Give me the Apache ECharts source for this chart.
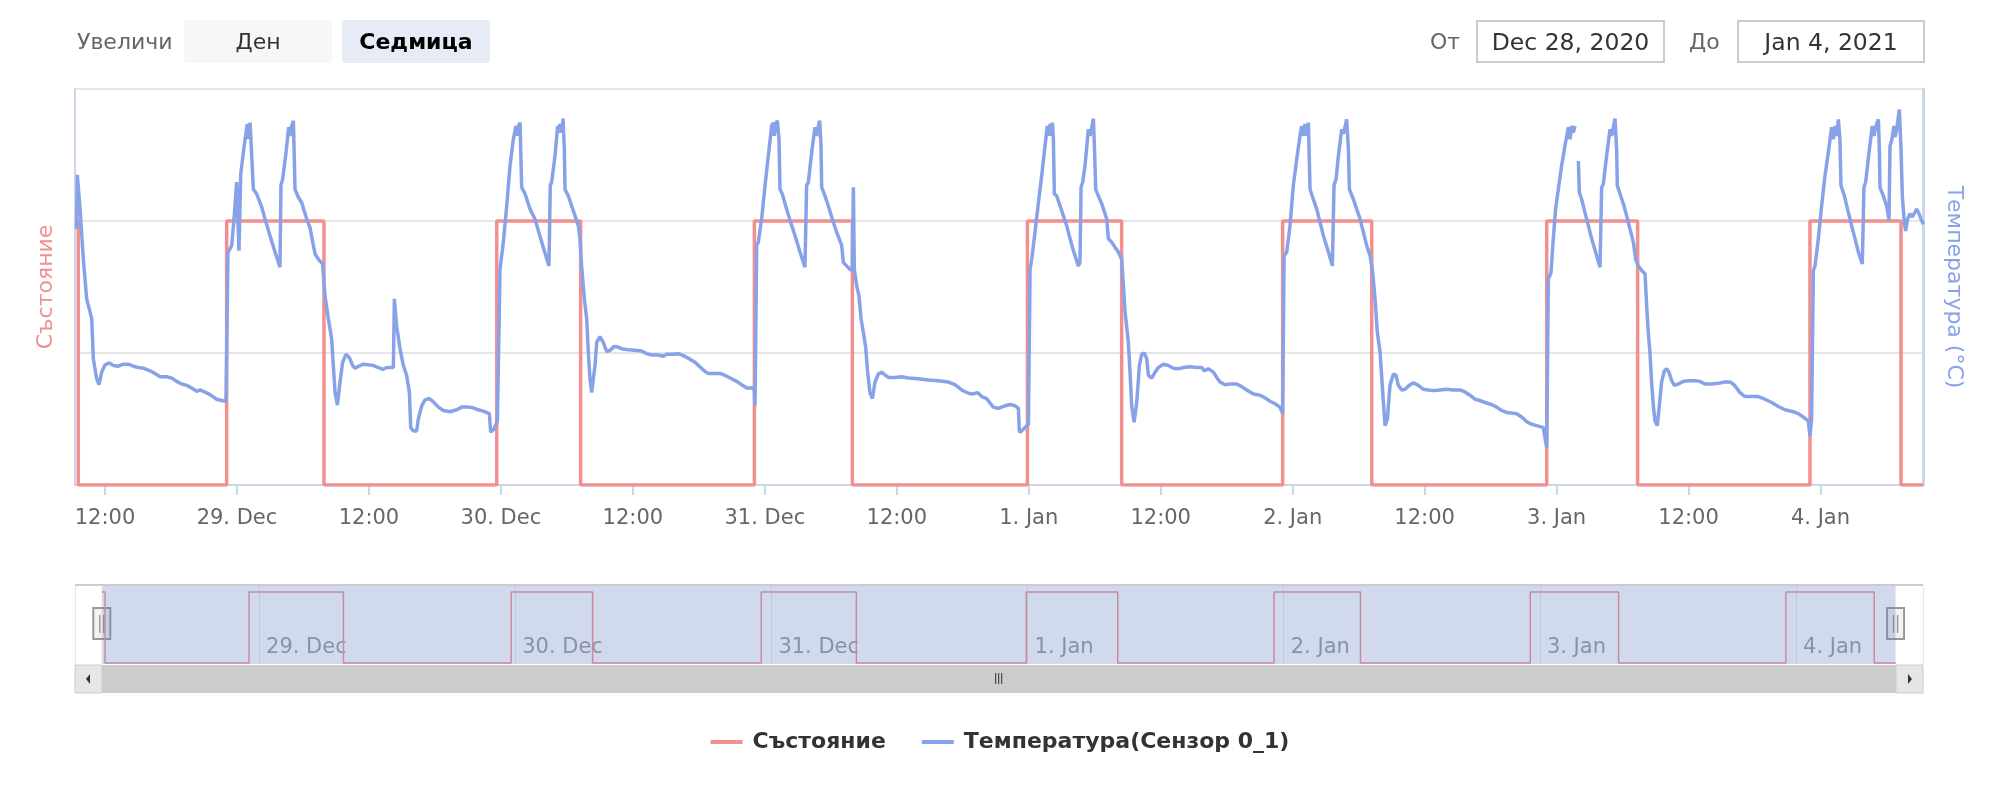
<!DOCTYPE html>
<html>
<head>
<meta charset="utf-8">
<script src="https://cdn.jsdelivr.net/npm/echarts@6/dist/echarts.min.js"></script>
<style>
  html, body { margin: 0; padding: 0; background: #fff; }
  #wrap { position: relative; width: 2000px; height: 800px; font-family: 'DejaVu Sans', sans-serif; }
  #chart { position: absolute; left: 0; top: 0; width: 2000px; height: 800px; }
  .lbl { position: absolute; top: 20px; height: 43px; line-height: 43px; font-size: 22px; color: #666; z-index: 5; }
  .btn { position: absolute; top: 20px; height: 43px; line-height: 43px; font-size: 22px; text-align: center; border-radius: 3px; z-index: 5; }
  .box { position: absolute; top: 20px; height: 43px; line-height: 41px; box-sizing: border-box; border: 2px solid #cccccc; font-size: 23.5px; color: #333; text-align: center; z-index: 5; background: #fff; }
</style>
</head>
<body>
<div id="wrap">
  <div id="chart"></div>
  <div class="lbl" style="left:77px;">Увеличи</div>
  <div class="btn" style="left:184px;width:148px;background:#f7f7f7;color:#333;">Ден</div>
  <div class="btn" style="left:342px;width:148px;background:#e6ebf5;color:#000;font-weight:bold;">Седмица</div>
  <div class="lbl" style="left:1430px;">От</div>
  <div class="box" style="left:1476px;width:189px;">Dec 28, 2020</div>
  <div class="lbl" style="left:1689px;">До</div>
  <div class="box" style="left:1737px;width:188px;">Jan 4, 2021</div>
</div>
<script>
// ---------------- data (hours since 28 Dec 2020 00:00) ----------------
const START_DATE = [2020, 11, 28];
const VIEW_RANGE_HOURS = [9.27, 177.32];       // main chart window
const NAVIGATOR_RANGE_HOURS = [6.76, 179.89];  // navigator axis extent
const X_TICK_HOURS = [12, 24, 36, 48, 60, 72, 84, 96, 108, 120, 132, 144, 156, 168]; // 12:00 / day labels
const MONTH_NAMES = ['Jan','Feb','Mar','Apr','May','Jun','Jul','Aug','Sep','Oct','Nov','Dec'];

const SERIES_NAMES = ['Състояние', 'Температура(Сензор 0_1)'];
const AXIS_TITLES = ['Състояние', 'Температура (°C)'];

// state (0 = off, 1 = on), change points
const stateHours  = [9.3, 9.57, 23.06, 31.91, 47.62, 55.25, 71.05, 79.96, 95.88, 104.45, 119.09, 127.19, 143.10, 151.37, 167.04, 175.32, 177.35];
const stateValues = [1,   0,    1,     0,     1,     0,     1,     0,     1,     0,      1,      0,      1,      0,      1,      0,      0];

// temperature readings [hour, °C]; null = missing reading
const temperature = [
 [9.42,48.8],[9.48,57.0],[9.73,51.8],[10.03,44.2],[10.33,38.2],[10.79,35.2],[10.94,29.1],[11.24,26.1],[11.45,25.2],[11.70,27.1],
 [12.0,28.2],[12.39,28.5],[12.76,28.1],[13.21,28.0],[13.67,28.3],[14.12,28.3],[14.58,28.0],[15.03,27.8],[15.49,27.7],[16.09,27.3],
 [16.55,26.9],[17.0,26.4],[17.61,26.4],[18.06,26.2],[18.52,25.7],[18.97,25.3],[19.43,25.1],[19.88,24.7],[20.34,24.2],[20.64,24.4],
 [20.94,24.2],[21.55,23.7],[22.15,23.0],[22.61,22.8],[23.0,22.7],[23.12,22.4],
 [23.18,45.2],[23.52,46.3],[23.73,50.3],[23.97,55.9],[24.18,45.5],[24.34,57.1],[24.58,60.4],[24.82,63.4],[24.94,64.7],[25.06,62.4],
 [25.19,64.9],[25.34,65.2],[25.49,54.8],[25.79,54.1],[26.25,52.1],[26.55,50.3],[27.0,47.8],[27.46,45.3],[27.91,43.0],[28.0,55.4],
 [28.16,56.4],[28.46,60.4],[28.70,64.2],[28.82,62.9],[28.97,64.4],[29.13,65.2],[29.28,54.8],[29.58,53.6],[29.88,52.8],[30.34,50.3],
 [30.64,49.0],[31.10,45.0],[31.40,44.2],[31.79,43.5],
 [32.0,38.7],[32.31,35.2],[32.61,32.1],[32.76,28.1],[32.92,24.0],[33.13,22.1],[33.37,25.6],[33.61,28.6],[33.91,29.8],[34.22,29.3],
 [34.52,28.1],[34.73,27.7],[35.19,28.1],[35.49,28.3],[35.95,28.2],[36.40,28.1],[36.86,27.8],[37.25,27.5],[37.61,27.8],[37.92,27.8],
 [38.22,27.8],[38.31,38.2],[38.52,34.1],[38.83,30.6],[39.13,28.1],[39.43,26.6],[39.68,24.0],[39.80,18.7],[40.04,18.2],[40.34,18.2],
 [40.49,20.0],[40.80,22.0],[41.10,22.9],[41.49,23.1],[41.86,22.6],[42.31,21.8],[42.77,21.3],[43.37,21.1],[43.98,21.4],[44.43,21.8],
 [45.04,21.8],[45.49,21.7],[45.95,21.4],[46.40,21.2],[46.95,20.8],[47.07,18.0],[47.16,17.7],[47.37,18.5],[47.68,19.7],
 [47.92,42.7],[48.22,46.8],[48.53,52.3],[48.83,58.4],[49.13,62.4],[49.38,64.4],[49.5,62.9],[49.59,64.4],[49.74,64.9],[49.89,55.1],
 [50.2,54.1],[50.65,51.8],[51.10,50.3],[51.71,46.8],[52.37,43.2],[52.49,55.4],[52.62,55.9],[52.92,59.9],[53.16,64.4],[53.28,63.4],
 [53.37,64.7],[53.52,63.4],[53.65,65.5],[53.77,60.9],[53.83,54.8],[54.13,53.8],[54.43,52.3],[54.74,50.8],[55.04,49.3],[55.19,47.3],
 [55.34,43.2],[55.59,38.2],[55.80,35.2],[55.95,30.1],[56.10,26.1],[56.25,24.0],[56.40,24.1],[56.56,28.1],[56.71,31.6],[57.01,32.5],
 [57.31,31.6],[57.62,30.2],[57.92,30.4],[58.31,31.0],[58.68,30.9],[59.04,30.6],[59.59,30.5],[60.19,30.4],[60.80,30.3],[61.25,29.9],
 [61.71,29.7],[62.32,29.7],[62.77,29.5],[63.07,29.8],[63.53,29.8],[64.13,29.9],[64.59,29.6],[65.04,29.2],[65.65,28.6],[66.10,27.9],
 [66.56,27.2],[66.86,26.9],[67.32,26.9],[67.92,26.9],[68.38,26.6],[68.98,26.1],[69.44,25.7],[69.89,25.2],[70.35,24.7],[70.86,24.7],
 [71.05,24.5],[71.11,22.0],
 [71.26,46.3],[71.41,46.8],[71.71,50.3],[72.02,55.4],[72.32,59.9],[72.62,64.4],[72.77,64.9],[72.86,62.9],[72.99,64.7],[73.14,65.2],
 [73.29,62.4],[73.38,54.8],[73.59,54.1],[73.89,52.3],[74.29,50.1],[74.74,47.8],[75.20,45.3],[75.65,43.0],[75.80,55.4],[75.96,55.9],
 [76.26,60.4],[76.56,64.2],[76.71,62.9],[76.87,64.4],[76.99,65.2],[77.11,61.4],[77.17,55.1],[77.47,53.8],[77.77,52.3],[78.14,50.3],
 [78.53,48.3],[78.99,46.3],[79.14,43.7],[79.44,43.2],[79.74,42.7],[79.96,42.5],[80.05,55.1],[80.14,42.7],[80.35,40.2],[80.56,38.7],
 [80.75,35.2],[80.96,33.1],[81.17,30.9],[81.35,27.1],[81.56,24.0],[81.78,23.1],[82.02,25.6],[82.32,26.8],[82.62,27.1],[82.93,26.7],
 [83.23,26.3],[83.84,26.3],[84.44,26.4],[85.05,26.2],[85.96,26.1],[86.87,25.9],[87.78,25.8],[88.69,25.6],[89.29,25.2],[89.90,24.4],
 [90.51,23.9],[90.96,23.8],[91.35,24.0],[91.72,23.4],[92.17,23.1],[92.48,22.4],[92.78,21.8],[93.23,21.6],
 [93.39,21.5],[93.84,22.0],[94.30,22.2],[94.75,22.0],[95.06,21.6],[95.15,18.0],[95.36,18.2],[95.66,18.7],[95.97,19.2],
 [96.12,42.7],[96.27,44.2],[96.57,48.3],[96.88,52.8],[97.18,56.9],[97.48,61.4],[97.69,64.4],[97.82,62.9],[97.94,64.7],[98.06,62.9],
 [98.15,64.9],[98.24,62.4],[98.33,54.1],[98.54,53.8],[98.85,52.3],[99.15,50.8],[99.45,49.3],[99.76,47.3],[100.06,45.5],[100.51,43.2],
 [100.66,43.7],[100.76,55.1],[100.91,55.9],[101.12,58.4],[101.42,63.9],[101.57,62.9],[101.73,64.2],[101.88,65.5],[101.97,61.4],[102.09,54.8],
 [102.33,53.8],[102.64,52.6],[102.94,51.1],[103.09,50.3],[103.24,47.3],[103.54,46.8],[103.85,46.0],[104.15,45.3],[104.45,44.2],[104.61,40.2],
 [104.76,36.2],[105.06,31.6],[105.21,27.1],[105.36,22.0],[105.58,19.5],[105.82,22.5],[106.06,28.1],[106.27,29.8],[106.51,30.0],[106.73,29.1],
 [106.88,26.6],[107.18,26.2],[107.49,27.1],[107.79,27.8],[108.24,28.3],[108.70,28.1],[109.15,27.7],[109.61,27.6],[110.06,27.8],[110.67,27.9],
 [111.27,27.8],[111.73,27.8],[111.94,27.3],[112.33,27.6],[112.79,27.1],[113.09,26.3],[113.40,25.6],[113.85,25.2],[114.31,25.3],[114.91,25.3],
 [115.37,24.9],[115.82,24.4],[116.43,23.8],[117.03,23.6],[117.49,23.2],[117.94,22.7],[118.40,22.3],[118.85,21.8],[119.09,20.8],
 [119.22,44.7],[119.46,45.3],[119.76,49.3],[120.06,55.4],[120.37,59.4],[120.67,62.9],[120.82,64.4],[120.97,62.9],[121.13,64.7],[121.28,62.9],
 [121.43,64.9],[121.58,54.8],[121.88,53.3],[122.19,51.8],[122.49,49.8],[122.79,47.8],[123.25,45.3],[123.61,43.2],[123.76,55.4],[123.95,56.4],
 [124.16,59.9],[124.46,63.9],[124.61,63.2],[124.76,64.2],[124.91,65.4],[125.07,60.9],[125.16,54.8],[125.52,53.3],[125.82,51.8],[126.13,50.3],
 [126.43,48.3],[126.73,46.3],[127.04,44.7],[127.28,42.2],[127.49,38.2],[127.70,33.1],[127.95,30.1],[128.19,24.0],[128.40,19.0],[128.61,20.0],
 [128.85,25.1],[129.16,26.8],[129.40,26.6],[129.61,25.1],[129.92,24.4],[130.22,24.5],[130.61,25.1],[130.98,25.5],[131.43,25.1],[131.89,24.5],
 [132.34,24.4],[132.80,24.3],[133.40,24.4],[134.01,24.5],[134.61,24.4],[135.22,24.4],
 [135.67,24.1],[136.12,23.6],[136.58,23.0],[137.03,22.8],[137.49,22.5],[138.09,22.2],[138.55,21.8],[139.0,21.3],[139.46,21.0],[139.91,20.9],
 [140.37,20.8],[140.82,20.3],[141.28,19.6],[141.73,19.2],[142.19,19.0],[142.79,18.7],[142.95,18.6],[143.10,15.6],
 [143.25,41.2],[143.49,42.2],[143.70,47.3],[143.91,51.8],[144.16,54.8],[144.46,58.4],[144.76,61.4],[145.07,64.2],[145.22,62.4],[145.37,64.4],
 [145.52,63.4],[145.67,64.4],[145.8,null],[145.98,59.1],[146.07,54.3],[146.28,53.3],[146.58,51.3],[146.89,49.3],[147.19,47.3],[147.55,45.3],
 [147.95,43.0],[148.10,55.1],[148.25,55.6],[148.55,59.9],[148.86,63.9],[149.01,62.9],[149.16,64.2],[149.31,65.5],[149.46,60.9],[149.52,55.4],
 [149.77,54.1],[150.07,52.6],[150.37,50.8],[150.67,48.8],[150.98,46.8],[151.19,44.2],[151.43,43.2],[151.74,42.5],[152.04,42.0],[152.19,37.2],
 [152.34,33.1],[152.49,30.1],[152.64,25.6],[152.80,22.0],[152.95,19.7],[153.16,19.0],[153.34,22.0],[153.55,25.6],[153.80,27.3],[154.01,27.6],
 [154.22,27.1],[154.46,25.8],[154.71,25.1],[155.07,25.3],[155.52,25.7],[155.98,25.8],[156.59,25.8],[157.04,25.7],[157.49,25.3],[158.10,25.3],
 [158.71,25.4],[159.31,25.6],[159.77,25.6],[160.07,25.3],[160.37,24.7],[160.68,24.0],[161.13,23.4],[161.74,23.4],[162.34,23.4],[162.95,23.0],
 [163.56,22.5],[164.16,21.9],[164.77,21.4],[165.53,21.1],[165.98,20.8],[166.44,20.3],[166.89,19.7],[167.04,17.4],[167.19,20.0],
 [167.35,42.5],[167.50,43.2],[167.80,47.3],[168.10,52.3],[168.41,56.9],[168.71,60.4],[169.01,64.2],[169.17,62.4],[169.32,64.4],[169.47,62.9],
 [169.62,65.4],[169.77,62.4],[169.86,55.4],[170.17,53.8],[170.53,51.3],[170.83,49.3],[171.14,47.3],[171.44,45.3],[171.80,43.5],[171.95,55.1],
 [172.11,55.9],[172.41,60.4],[172.71,64.4],[172.86,62.9],[173.01,64.2],[173.26,65.4],[173.35,60.9],[173.41,55.1],[173.71,53.8],[174.01,52.3],
 [174.23,50.2],[174.32,61.4],[174.47,62.2],[174.68,64.4],[174.77,62.7],[174.93,63.9],[175.17,66.9],[175.32,60.9],[175.44,53.8],[175.62,49.8],
 [175.74,48.5],[175.92,50.3],[176.14,51.1],[176.35,50.6],[176.53,50.8],[176.74,51.8],[176.96,51.1],[177.14,50.3],[177.35,49.5]
];

// axis scales
const STATE_AXIS = { min: 0, max: 1.5, interval: 0.5 };
const TEMP_AXIS = { min: 10, max: 70, interval: 20 };

// ---------------- build ----------------
const BASE = new Date(START_DATE[0], START_DATE[1], START_DATE[2], 0, 0, 0).getTime();
const HOUR = 3600 * 1000;
const toTime = h => BASE + h * HOUR;

const stateData = stateHours.map((h, i) => [toTime(h), stateValues[i]]);
const tempData = temperature.map(p => [toTime(p[0]), p[1] === null ? '-' : p[1]]);
const xTicks = X_TICK_HOURS.map(toTime);

const FONT = 'DejaVu Sans';
const RED = '#f28f8f';
const BLUE = '#87a2e8';
const AXIS_COLOR = '#ccd6eb';

function fmtTime(v) {
  const d = new Date(v);
  const h = d.getHours(), m = d.getMinutes();
  if (h === 0 && m === 0) return d.getDate() + '. ' + MONTH_NAMES[d.getMonth()];
  return String(h).padStart(2, '0') + ':' + String(m).padStart(2, '0');
}

const chart = echarts.init(document.getElementById('chart'), null, { renderer: 'canvas' });

const option = {
  animation: false,
  backgroundColor: '#ffffff',
  textStyle: { fontFamily: FONT },
  legend: {
    data: SERIES_NAMES,
    top: 726,
    left: 'center',
    icon: 'rect',
    itemWidth: 32,
    itemHeight: 4,
    itemGap: 36,
    textStyle: { fontFamily: FONT, fontSize: 22, fontWeight: 'bold', color: '#333', padding: [0, 0, 0, 5] }
  },
  grid: [
    { left: 75, right: 77, top: 89, height: 396 },
    { left: 75, right: 77, top: 585, height: 79 }
  ],
  xAxis: [
    {
      // timestamps on a linear axis, ticks placed at 12-hour marks
      type: 'value', gridIndex: 0,
      min: toTime(VIEW_RANGE_HOURS[0]), max: toTime(VIEW_RANGE_HOURS[1]),
      axisLine: { show: true, onZero: false, lineStyle: { color: AXIS_COLOR, width: 2 } },
      axisTick: { show: true, length: 10, customValues: xTicks, lineStyle: { color: AXIS_COLOR, width: 2 } },
      axisLabel: { customValues: xTicks, formatter: fmtTime, color: '#666', fontSize: 21, fontFamily: FONT, margin: 23, hideOverlap: false },
      splitLine: { show: false }
    },
    {
      type: 'time', gridIndex: 1,
      min: toTime(NAVIGATOR_RANGE_HOURS[0]), max: toTime(NAVIGATOR_RANGE_HOURS[1]),
      minInterval: 24 * HOUR, maxInterval: 24 * HOUR,
      axisLine: { show: false },
      axisTick: { show: false },
      axisLabel: { inside: true, formatter: fmtTime, color: '#999', fontSize: 21, fontFamily: FONT, align: 'left', padding: [0, 0, 0, 7], margin: 6, showMinLabel: false, showMaxLabel: false },
      splitLine: { show: true, lineStyle: { color: '#e6e6e6', width: 1 } }
    }
  ],
  yAxis: [
    {
      type: 'value', gridIndex: 0, min: STATE_AXIS.min, max: STATE_AXIS.max, interval: STATE_AXIS.interval,
      position: 'left',
      name: AXIS_TITLES[0], nameLocation: 'middle', nameGap: 18, nameRotate: 90,
      nameTextStyle: { color: RED, fontSize: 22, fontFamily: FONT },
      axisLine: { show: true, onZero: false, lineStyle: { color: AXIS_COLOR, width: 2 } },
      axisTick: { show: false },
      axisLabel: { show: false },
      splitLine: { show: true, lineStyle: { color: '#e6e6e6', width: 2 } }
    },
    {
      type: 'value', gridIndex: 0, min: TEMP_AXIS.min, max: TEMP_AXIS.max, interval: TEMP_AXIS.interval,
      position: 'right',
      name: AXIS_TITLES[1], nameLocation: 'middle', nameGap: 20, nameRotate: -90,
      nameTextStyle: { color: BLUE, fontSize: 22, fontFamily: FONT },
      axisLine: { show: true, onZero: false, lineStyle: { color: AXIS_COLOR, width: 3 } },
      axisTick: { show: false },
      axisLabel: { show: false },
      splitLine: { show: false }
    },
    {
      type: 'value', gridIndex: 1, min: -0.014, max: 1.099,
      axisLine: { show: false }, axisTick: { show: false }, axisLabel: { show: false }, splitLine: { show: false }
    }
  ],
  series: [
    {
      name: SERIES_NAMES[0], type: 'line', xAxisIndex: 0, yAxisIndex: 0,
      step: 'end', data: stateData, showSymbol: false, symbol: 'none',
      lineStyle: { color: RED, width: 3.5 }, itemStyle: { color: RED }, z: 2
    },
    {
      name: SERIES_NAMES[1], type: 'line', xAxisIndex: 0, yAxisIndex: 1,
      data: tempData, showSymbol: false, symbol: 'none', connectNulls: false,
      lineStyle: { color: BLUE, width: 3.5 }, itemStyle: { color: BLUE }, z: 3
    },
    {
      name: 'navigator', type: 'line', xAxisIndex: 1, yAxisIndex: 2,
      step: 'end', data: stateData, showSymbol: false, symbol: 'none',
      lineStyle: { color: RED, width: 1.5 }, itemStyle: { color: RED }, z: 2
    }
  ]
};
chart.setOption(option);

// navigator chrome (mask, handles, scrollbar) positioned through the navigator axis
const navL = 75, navR = 1923, navTop = 585, navBot = 664;
const mx0 = chart.convertToPixel({ xAxisIndex: 1 }, toTime(VIEW_RANGE_HOURS[0]));
const mx1 = chart.convertToPixel({ xAxisIndex: 1 }, toTime(VIEW_RANGE_HOURS[1]));
const sbTop = 665, sbH = 28, btnW = 27;
function handle(x) {
  return {
    type: 'group', z: 60, children: [
      { type: 'rect', shape: { x: x - 8.5, y: 608, width: 17, height: 31 }, style: { fill: '#f2f2f2', stroke: '#999', lineWidth: 2 } },
      { type: 'line', shape: { x1: x - 2, y1: 615, x2: x - 2, y2: 633 }, style: { stroke: '#999', lineWidth: 1.5 } },
      { type: 'line', shape: { x1: x + 2, y1: 615, x2: x + 2, y2: 633 }, style: { stroke: '#999', lineWidth: 1.5 } }
    ]
  };
}
const gripX = (mx0 + mx1) / 2;
chart.setOption({
  graphic: [
    { type: 'rect', z: 50, shape: { x: mx0, y: navTop, width: mx1 - mx0, height: navBot - navTop }, style: { fill: 'rgba(102,133,194,0.3)' } },
    { type: 'rect', z: 55, shape: { x: navL, y: navTop - 1, width: navR - navL, height: 2 }, style: { fill: '#cccccc' } },
    handle(mx0),
    handle(mx1),
    // scrollbar
    { type: 'rect', z: 50, shape: { x: navL, y: sbTop, width: navR - navL, height: sbH }, style: { fill: '#f2f2f2' } },
    { type: 'rect', z: 51, shape: { x: navL + btnW, y: sbTop, width: navR - navL - 2 * btnW, height: sbH }, style: { fill: '#cccccc' } },
    { type: 'rect', z: 51, shape: { x: navL, y: sbTop, width: btnW, height: sbH }, style: { fill: '#e6e6e6', stroke: '#cccccc', lineWidth: 1 } },
    { type: 'rect', z: 51, shape: { x: navR - btnW, y: sbTop, width: btnW, height: sbH }, style: { fill: '#e6e6e6', stroke: '#cccccc', lineWidth: 1 } },
    { type: 'polygon', z: 52, shape: { points: [[navL + 11, sbTop + sbH / 2], [navL + 15, sbTop + sbH / 2 - 5], [navL + 15, sbTop + sbH / 2 + 5]] }, style: { fill: '#333' } },
    { type: 'polygon', z: 52, shape: { points: [[navR - 11, sbTop + sbH / 2], [navR - 15, sbTop + sbH / 2 - 5], [navR - 15, sbTop + sbH / 2 + 5]] }, style: { fill: '#333' } },
    { type: 'line', z: 52, shape: { x1: gripX - 3, y1: sbTop + 8, x2: gripX - 3, y2: sbTop + 19 }, style: { stroke: '#333', lineWidth: 1 } },
    { type: 'line', z: 52, shape: { x1: gripX, y1: sbTop + 8, x2: gripX, y2: sbTop + 19 }, style: { stroke: '#333', lineWidth: 1 } },
    { type: 'line', z: 52, shape: { x1: gripX + 3, y1: sbTop + 8, x2: gripX + 3, y2: sbTop + 19 }, style: { stroke: '#333', lineWidth: 1 } }
  ]
});
</script>
</body>
</html>
